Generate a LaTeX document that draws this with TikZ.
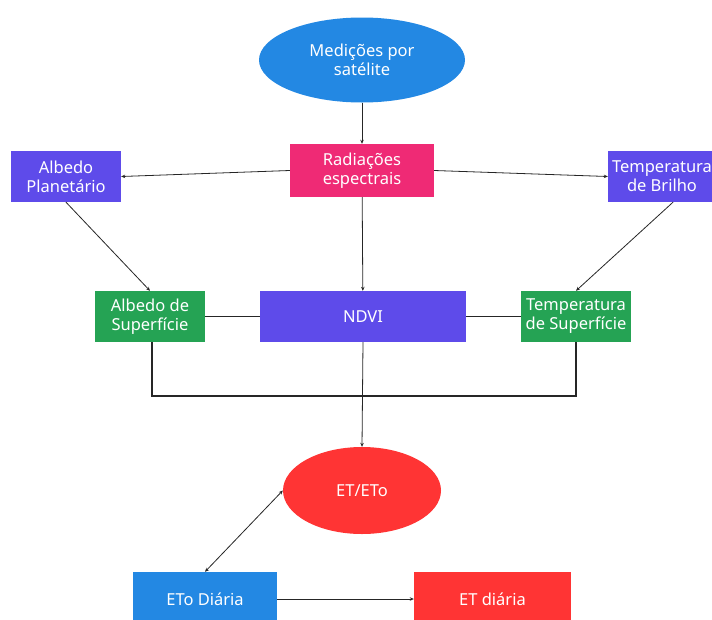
\documentclass[tikz,border=0pt]{standalone}
\usepackage{fontspec}
\setmainfont{Noto Sans}
\usetikzlibrary{shapes.geometric,arrows.meta}
\definecolor{cblue}{HTML}{2388E3}
\definecolor{cpink}{HTML}{EF2A75}
\definecolor{cpurple}{HTML}{5E4BEA}
\definecolor{cgreen}{HTML}{25A354}
\definecolor{cred}{HTML}{FF3434}
\begin{document}
\begin{tikzpicture}[x=1pt,y=-1pt,
  box/.style={rectangle,draw=none,text=white,align=center,inner sep=0pt,
    font=\fontsize{16.5}{19}\selectfont},
  oval/.style={ellipse,draw=none,text=white,align=center,inner sep=0pt,
    font=\fontsize{16.5}{19}\selectfont},
  arr/.style={draw=black!85,line width=0.8pt,-{Stealth[length=4pt,width=3.5pt]}},
  darr/.style={draw=black!85,line width=0.8pt,{Stealth[length=4pt,width=3.5pt]}-{Stealth[length=4pt,width=3.5pt]}},
  ln/.style={draw=black!85,line width=1.3pt}]
\path[use as bounding box] (0,0) rectangle (712,619);
\clip (0,0) rectangle (712,619);
% nodes
\node[oval,fill=cblue,minimum width=206pt,minimum height=85pt] (sat) at (362,60) {Medições por\\satélite};
\node[box,fill=cpink,minimum width=144pt,minimum height=53pt] (rad) at (362,170.5) {Radiações\\espectrais};
\node[box,fill=cpurple,minimum width=110pt,minimum height=51pt] (ap) at (66,176.5) {Albedo\\Planetário};
\node[box,fill=cpurple,minimum width=108pt,minimum height=51pt] (tb) at (662,176.5) {Temperatura\\de Brilho};
\node[box,fill=cgreen,minimum width=110pt,minimum height=51pt] (as) at (150,316.5) {Albedo de\\Superfície};
\node[box,fill=cpurple,minimum width=206pt,minimum height=51pt] (ndvi) at (363,316.5) {NDVI};
\node[box,fill=cgreen,minimum width=110pt,minimum height=51pt] (ts) at (576,316.5) {Temperatura\\de Superfície};
\coordinate (jl) at (152,396);
\coordinate (jr) at (576,396);
\node[oval,fill=cred,minimum width=158pt,minimum height=87pt] (et) at (362,490.5) {ET/ETo};
\node[box,fill=cblue,minimum width=144pt,minimum height=54pt] (eto) at (205,599) {ETo Diária};
\node[box,fill=cred,minimum width=157pt,minimum height=54pt] (etd) at (492.5,599) {ET diária};
% connectors
\draw[arr] (sat) -- (rad);
\draw[arr] (rad.west) -- (ap.east);
\draw[arr] (rad.east) -- (tb.west);
\draw[arr] (rad) -- (ndvi);
\draw[arr] (ap.south) -- (as.north);
\draw[arr] ([xshift=11pt]tb.south) -- (ts.north);
\draw[ln] (as.east) -- (ndvi.west);
\draw[ln] (ndvi.east) -- (ts.west);
\draw[ln] (as.south -| jl) -- (jl) -- (jr) -- (ts.south -| jr);
\draw[arr] (ndvi.south) -- (et.north);
\draw[darr] (eto.north) -- (et.west);
\draw[arr] (eto.east) -- (etd.west);
\end{tikzpicture}
\end{document}
